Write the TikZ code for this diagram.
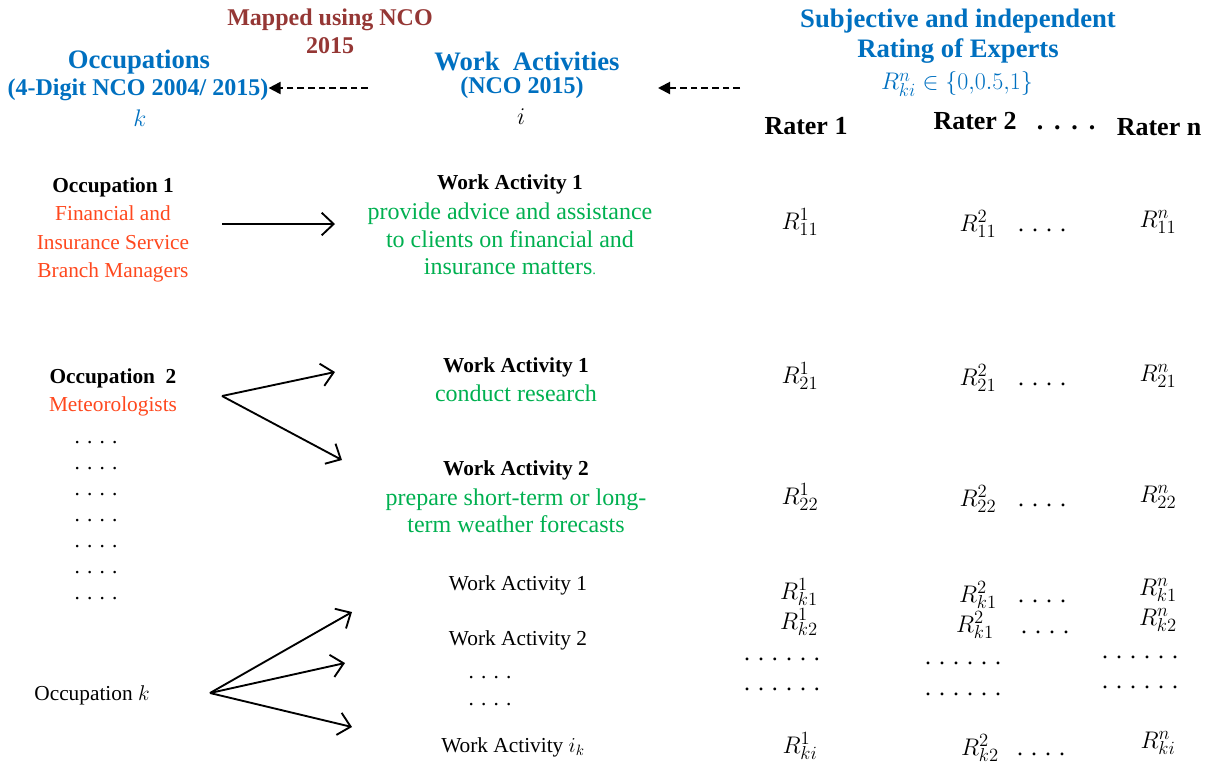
\RequirePackage{fix-cm}
\documentclass[tikz,border=0pt]{standalone}
\usepackage{fontspec}
\setmainfont{Liberation Serif}
\usetikzlibrary{arrows.meta}
\DeclareMathSizes{18}{18}{14}{11}

\definecolor{hdblue}{RGB}{0,112,192}
\definecolor{mapred}{RGB}{149,55,53}
\definecolor{occred}{RGB}{255,72,30}
\definecolor{wagreen}{RGB}{0,176,80}

\tikzset{
  bighead/.style={font=\bfseries\fontsize{20}{24}\selectfont,text=hdblue,inner sep=0pt},
  subhead/.style={font=\bfseries\fontsize{18}{22}\selectfont,text=hdblue,inner sep=0pt},
  maphead/.style={font=\bfseries\fontsize{18}{22}\selectfont,text=mapred,inner sep=0pt},
  raterhead/.style={font=\bfseries\fontsize{19.5}{23}\selectfont,inner sep=0pt},
  itemname/.style={font=\bfseries\fontsize{16}{19}\selectfont,inner sep=0pt},
  occtext/.style={font=\fontsize{16}{21.4}\selectfont,text=occred,align=center,inner sep=0pt},
  watext/.style={font=\fontsize{18}{20.6}\selectfont,text=wagreen,align=center,inner sep=0pt},
  plaintext/.style={font=\fontsize{16}{19}\selectfont,inner sep=0pt},
  rate/.style={font=\fontsize{18}{20}\selectfont,inner sep=0pt},
  linkarrow/.style={-{Straight Barb[length=9pt,width=17pt]},line width=1.4pt},
  backarrow/.style={-{Triangle[length=9pt,width=9pt]},dash pattern=on 5pt off 3pt,line width=1.5pt}
}

\begin{document}
\begin{tikzpicture}[x=0.75pt,y=-0.75pt]
    \useasboundingbox (0,0) rectangle (1212,765);
    % column headers
    \node (maptop) at (330,20) [maphead] {Mapped using NCO};
    \node (mapyear) at (330,46) [maphead] {2015};
    \node (occhead) at (139,62) [bighead] {Occupations};
    \node (occsub) at (138,90) [subhead] {(4-Digit NCO 2004/ 2015)};
    \node (occidx) at (140,118) [rate,text=hdblue] {$k$};
    \node (wahead) at (527,61) [bighead] {Work\ \ Activities};
    \node (wasub) at (522,88) [subhead] {(NCO 2015)};
    \node (waidx) at (521,117) [rate] {$i$};
    \node (rthead) at (958,21) [bighead] {Subjective and independent};
    \node (rtsub) at (958,51) [bighead] {Rating of Experts};
    \node (rtset) at (957,84) [rate,text=hdblue] {$R^{n}_{ki}\in\{0{,}0.5{,}1\}$};
    \coordinate (mapfrom) at (368,88);
    \coordinate (rtfrom) at (740,88);
    \coordinate (rtto) at (658,88);
    \draw[backarrow] (mapfrom) -- (occsub.east |- mapfrom);
    \draw[backarrow] (rtfrom) -- (rtto);
    \node (rater1) at (806,126) [raterhead] {Rater 1};
    \node (rater2) at (975,121) [raterhead] {Rater 2};
    \node (raterdots) at (1066,128) [raterhead] {.\ \,.\ \,.\ \,.};
    \node (ratern) at (1159,127) [raterhead] {Rater n};

    % occupation 1
    \node (occ1) at (113,187) [itemname] {Occupation 1};
    \node (occ1txt) at (113,244) [occtext] {Financial and\\Insurance Service\\Branch Managers};
    \node (wa11) at (510,184) [itemname] {Work Activity 1};
    \node (wa11txt) at (510,239) [watext] {provide advice and assistance\\to clients on financial and\\insurance matters{\fontsize{11}{11}\selectfont.}};
    \coordinate (occ1out) at (222,224);
    \coordinate (wa11in) at (335,224);
    \draw[linkarrow] (occ1out) -- (wa11in);

    % occupation 2
    \node (occ2) at (113,378) [itemname] {Occupation\ \ 2};
    \node (occ2txt) at (113,406) [occtext] {Meteorologists};
    \node (wa21) at (516,367) [itemname] {Work Activity 1};
    \node (wa21txt) at (516,393) [watext] {conduct research};
    \node (wa22) at (516,470) [itemname] {Work Activity 2};
    \node (wa22txt) at (516,511) [watext] {prepare short-term or long-\\term weather forecasts};
    \coordinate (occ2fan) at (222,396);
    \coordinate (wa21in) at (335,372);
    \coordinate (wa22in) at (342,460);
    \draw[linkarrow] (occ2fan) -- (wa21in);
    \draw[linkarrow] (occ2fan) -- (wa22in);

    \foreach \y in {443,469,...,599}
        \node (occdots\y) at (96,\y) [plaintext] {. . . .};

    % occupation k
    \node (occkname) at (92,695) [plaintext] {Occupation $k$};
    \node (wak1) at (518,585) [plaintext] {Work Activity 1};
    \node (wak2) at (518,640) [plaintext] {Work Activity 2};
    \node (wakdots1) at (490,678) [plaintext] {. . . .};
    \node (wakdots2) at (490,705) [plaintext] {. . . .};
    \node (waki) at (513,747) [plaintext] {Work Activity $i_k$};
    \coordinate (occkfan) at (210,693);
    \coordinate (wak1in) at (352,612);
    \coordinate (wak2in) at (345,663);
    \coordinate (wakiin) at (352,727);
    \draw[linkarrow] (occkfan) -- (wak1in);
    \draw[linkarrow] (occkfan) -- (wak2in);
    \draw[linkarrow] (occkfan) -- (wakiin);

    % ratings
    \node (r111) at (800,222) [rate] {$R^{1}_{11}$};
    \node (r211) at (978,224) [rate] {$R^{2}_{11}$};
    \node (d211) at (1042,230) [rate] {. . . .};
    \node (rn11) at (1158,222) [rate] {$R^{n}_{11}$};
    \node (r121) at (800,376) [rate] {$R^{1}_{21}$};
    \node (r221) at (978,378) [rate] {$R^{2}_{21}$};
    \node (d221) at (1042,384) [rate] {. . . .};
    \node (rn21) at (1158,376) [rate] {$R^{n}_{21}$};
    \node (r122) at (800,497) [rate] {$R^{1}_{22}$};
    \node (r222) at (978,499) [rate] {$R^{2}_{22}$};
    \node (d222) at (1042,505) [rate] {. . . .};
    \node (rn22) at (1158,497) [rate] {$R^{n}_{22}$};

    \node (r1k1) at (799,592) [rate] {$R^{1}_{k1}$};
    \node (r1k2) at (799,622) [rate] {$R^{1}_{k2}$};
    \node (d1a) at (782,659) [rate] {. . . . . .};
    \node (d1b) at (782,689) [rate] {. . . . . .};
    \node (r1ki) at (800,746) [rate] {$R^{1}_{ki}$};
    \node (r2k1) at (978,595) [rate] {$R^{2}_{k1}$};
    \node (d2k1) at (1042,601) [rate] {. . . .};
    \node (r2k1b) at (975,625) [rate] {$R^{2}_{k1}$};
    \node (d2k1b) at (1045,632) [rate] {. . . .};
    \node (d2a) at (963,663) [rate] {. . . . . .};
    \node (d2b) at (963,694) [rate] {. . . . . .};
    \node (r2k2) at (980,748) [rate] {$R^{2}_{k2}$};
    \node (d2k2) at (1041,754) [rate] {. . . .};
    \node (rnk1) at (1158,590) [rate] {$R^{n}_{k1}$};
    \node (rnk2) at (1158,620) [rate] {$R^{n}_{k2}$};
    \node (dna) at (1140,657) [rate] {. . . . . .};
    \node (dnb) at (1140,687) [rate] {. . . . . .};
    \node (rnki) at (1158,743) [rate] {$R^{n}_{ki}$};
\end{tikzpicture}
\end{document}
